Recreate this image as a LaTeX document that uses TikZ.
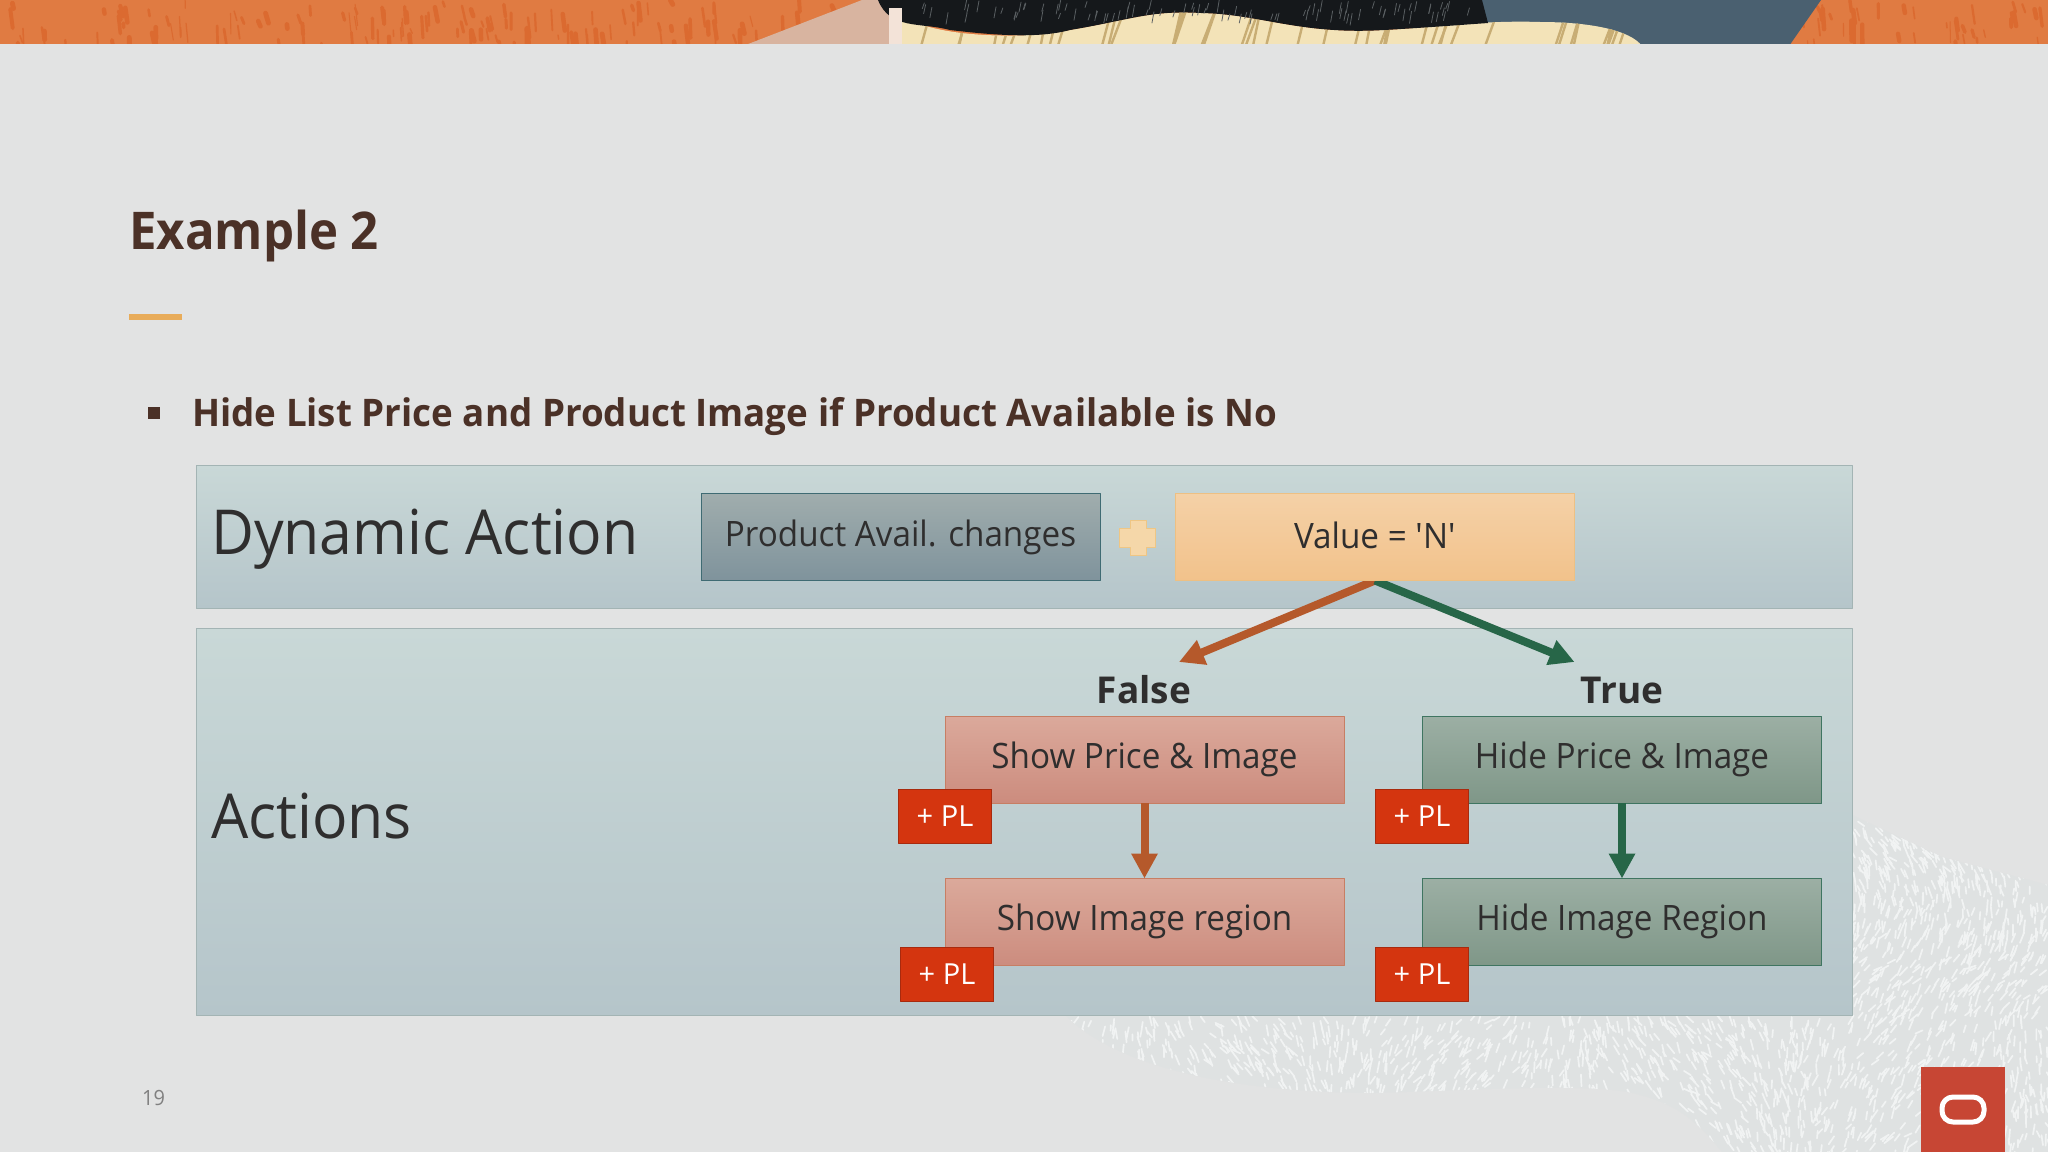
\documentclass[tikz,border=0pt]{standalone}
\usepackage{fontspec}
\setmainfont{Open Sans}
\newfontfamily\narrowfont[FakeStretch=0.95]{Open Sans}
\newfontfamily\titlefont[FakeStretch=0.945]{Open Sans}
\newfontfamily\listfont[FakeStretch=0.967]{Open Sans}
\usetikzlibrary{arrows.meta}
\pgfdeclarelayer{front}
\pgfsetlayers{main,front}
\definecolor{slidebg}{HTML}{E2E3E3}
\definecolor{titlebrown}{HTML}{4B3127}
\definecolor{darktext}{HTML}{2F2E2E}
\definecolor{falsearrow}{HTML}{B5592B}
\definecolor{truearrow}{HTML}{276648}
\definecolor{bandorange}{HTML}{E07B42}
\definecolor{bandstreak}{HTML}{DB6A30}
\definecolor{logored}{HTML}{C74634}
\definecolor{paneltop}{HTML}{C9D8D7}
\definecolor{panelbot}{HTML}{B5C5CA}
\definecolor{paneledge}{HTML}{A3B4B4}
\definecolor{srcedge}{HTML}{3F6B73}
\definecolor{srctop}{HTML}{A0ADAD}
\definecolor{srcbot}{HTML}{7F939C}
\definecolor{condedge}{HTML}{EDC083}
\definecolor{condtop}{HTML}{F4D1A7}
\definecolor{condbot}{HTML}{F2C28B}
\definecolor{falseedge}{HTML}{C77E64}
\definecolor{falsetop}{HTML}{DBA99B}
\definecolor{falsebot}{HTML}{CC8C7E}
\definecolor{trueedge}{HTML}{3F7561}
\definecolor{truetop}{HTML}{9CAFA4}
\definecolor{truebot}{HTML}{7F9788}
\definecolor{plfill}{HTML}{D4350F}
\definecolor{pledge}{HTML}{A82A0E}
\definecolor{bandpink}{HTML}{D8B4A0}
\definecolor{bandslate}{HTML}{4A6070}
\definecolor{bandcream}{HTML}{F3E3B8}
\definecolor{bandtan}{HTML}{C8AD74}
\definecolor{bandblack}{HTML}{15181B}
\definecolor{bandgrey}{HTML}{5A5F62}
\definecolor{bandpale}{HTML}{F3E3D8}
\definecolor{swooshbase}{HTML}{DFE2E2}
\definecolor{swooshmark}{HTML}{F1F3F3}
\definecolor{ruleorange}{HTML}{E8AC5A}
\definecolor{plusedge}{HTML}{EFC684}
\definecolor{plusfill}{HTML}{F5D7A9}
\tikzset{
  panelbox/.style={draw=paneledge,line width=1pt,top color=paneltop,bottom color=panelbot},
  flowbox/.style={minimum width=399pt,minimum height=87pt,inner sep=0pt,outer sep=0pt,line width=1pt,text=darktext,text height=25pt,text depth=8pt,font=\narrowfont\fontsize{35}{40}\selectfont},
  srcbox/.style={flowbox,draw=srcedge,top color=srctop,bottom color=srcbot,text height=26pt},
  condbox/.style={flowbox,draw=condedge,top color=condtop,bottom color=condbot,text height=28pt,text depth=6pt},
  falsebox/.style={flowbox,draw=falseedge,top color=falsetop,bottom color=falsebot},
  truebox/.style={flowbox,draw=trueedge,top color=truetop,bottom color=truebot},
  plbox/.style={minimum width=93pt,minimum height=54pt,inner sep=0pt,outer sep=0pt,fill=plfill,draw=pledge,line width=1pt,text=white,font=\fontsize{29}{34}\selectfont},
  headtext/.style={anchor=base west,inner sep=0pt,text=darktext,font=\narrowfont\fontsize{62}{70}\selectfont},
  branchtext/.style={anchor=base,inner sep=0pt,text=darktext,font=\bfseries\fontsize{37}{42}\selectfont},
  branchline/.style={line width=8pt,line cap=butt,-{Triangle[length=25pt,width=25pt]}}
}
\begin{document}
\begin{tikzpicture}[line cap=round,line join=round,x=1pt,y=-1pt]
\useasboundingbox (0,0) rectangle (2048,1152);
\fill [slidebg] (0,0) rectangle (2048,1152);
\pgfmathsetseed{19}
\begin{scope}
\clip (0,43) rectangle (2048,0);
\fill [bandorange] (0,0) rectangle (2048,46);
\foreach \i in {1,...,190}{
  \pgfmathsetmacro{\px}{rnd<0.77?rnd*860:1780+rnd*270}
  \pgfmathsetmacro{\py}{rnd*43}
  \pgfmathsetmacro{\pl}{4+rnd*18}
  \pgfmathsetmacro{\pw}{1+rnd*4}
  \draw [bandstreak,line width=\pw pt] (\px,\py) -- ++(rnd*3,\pl);
}
\fill [bandpink] (743,46) -- (862,0) -- (890,0) -- (903,46) -- cycle;
\fill [bandslate] (1480,0) -- (1821,0) -- (1789,46) -- (1480,46) -- cycle;
\begin{scope}
\clip (890,0) .. controls (900,40) and (1030,40) .. (1070,30) .. controls (1130,20) and (1150,10) .. (1201,13) .. controls (1260,14) and (1300,35) .. (1384,30) .. controls (1430,28) and (1480,20) .. (1540,22) .. controls (1590,22) and (1630,30) .. (1642,46) -- (890,46) -- cycle;
\fill [bandcream] (880,0) rectangle (1650,46);
\foreach \i in {1,...,46}{
  \pgfmathsetmacro{\px}{900+rnd*740}
  \draw [bandtan,line width=2.4pt] (\px,0) -- ++(-8-rnd*10,46);
}
\end{scope}
\fill [bandblack] (878,0) .. controls (890,30) and (920,22) .. (950,30) .. controls (1000,36) and (1040,38) .. (1070,30) .. controls (1130,20) and (1150,10) .. (1201,13) .. controls (1260,14) and (1300,35) .. (1384,30) .. controls (1420,28) and (1460,25) .. (1488,23) -- (1482,0) -- cycle;
\foreach \i in {1,...,90}{
  \pgfmathsetmacro{\px}{900+rnd*570}
  \pgfmathsetmacro{\py}{rnd*14}
  \draw [bandgrey,line width=0.8pt] (\px,\py) -- ++(-2,5+rnd*7);
}
\fill [bandpale] (889,8) rectangle (902,46);
\end{scope}
\begin{scope}
\clip (1065,1015) -- (1852,815) -- (1942,857) -- (2048,885) -- (2048,1152) -- (1722,1152) .. controls (1700,1125) and (1680,1105) .. (1640,1095) .. controls (1600,1082) and (1480,1090) .. (1375,1093) .. controls (1280,1093) and (1130,1080) .. (1065,1015) -- cycle;
\fill [swooshbase] (1060,810) rectangle (2048,1152);
\foreach \i in {1,...,1800}{
  \pgfmathsetmacro{\px}{1060+rnd*988}
  \pgfmathsetmacro{\py}{1015+rnd*137}
  \pgfmathsetmacro{\pa}{70+35*sin(\px*0.8)+rnd*40}
  \draw [swooshmark,line width=1.7pt] (\px,\py) -- ++(\pa:5+rnd*7);
}
\foreach \i in {1,...,700}{
  \pgfmathsetmacro{\px}{1852+rnd*196}
  \pgfmathsetmacro{\py}{815+rnd*200}
  \pgfmathsetmacro{\pa}{70+35*sin(\py*1.2)+rnd*40}
  \draw [swooshmark,line width=1.7pt] (\px,\py) -- ++(\pa:5+rnd*7);
}
\end{scope}
\node (titletext) [anchor=base west,inner sep=0pt,text=titlebrown,font=\titlefont\bfseries\fontsize{52}{58}\selectfont] at (129,249) {Example 2};
\fill [ruleorange] (129,314) rectangle (182,320);
\fill [titlebrown] (147.5,407) rectangle (160,419);
\node (bullettext) [anchor=base west,inner sep=0pt,text=titlebrown,font=\listfont\bfseries\fontsize{38}{44}\selectfont] at (192,426) {Hide List Price and Product Image if Product Available is No};
\node (pagenum) [anchor=base west,inner sep=0pt,text=gray,font=\narrowfont\fontsize{21}{26}\selectfont] at (142,1105) {19};
\draw [panelbox] (196,465) rectangle (1852,608);
\draw [panelbox] (196,628) rectangle (1852,1015);
\node (dyntext) [headtext] at (211,554) {Dynamic Action};
\node (acttext) [headtext] at (211,838) {Actions};
\node (prodbox) [srcbox] at (900.5,537) {Product Avail. changes};
\begin{pgfonlayer}{front}
\node (valuebox) [condbox] at (1375,537) {Value = \textquotesingle N\textquotesingle};
\end{pgfonlayer}
\draw [draw=plusedge,fill=plusfill,line width=1pt] (1130,520) -- (1146,520) -- (1146,528) -- (1155.5,528) -- (1155.5,547) -- (1146,547) -- (1146,555) -- (1130,555) -- (1130,547) -- (1119.5,547) -- (1119.5,528) -- (1130,528) -- cycle;
\coordinate (falsetip) at (1179,662);
\coordinate (truetip) at (1574.5,662);
\draw [branchline,falsearrow] (valuebox.south) -- (falsetip);
\draw [branchline,truearrow] (valuebox.south) -- (truetip);
\node (falsetext) [branchtext] at (1144,703) {False};
\node (truetext) [branchtext] at (1622,703) {True};
\node (showprice) [falsebox] at (1144.5,759.5) {Show Price \& Image};
\node (showimage) [falsebox] at (1144.5,922) {Show Image region};
\node (hideprice) [truebox] at (1622,759.5) {Hide Price \& Image};
\node (hideimage) [truebox] at (1622,922) {Hide Image Region};
\draw [branchline,falsearrow] (showprice) -- (showimage);
\draw [branchline,truearrow] (hideprice) -- (hideimage);
\node (plshowprice) [plbox] at (945,816) {+ PL};
\node (plshowimage) [plbox] at (947,974.5) {+ PL};
\node (plhideprice) [plbox] at (1422,816) {+ PL};
\node (plhideimage) [plbox] at (1422,974) {+ PL};
\fill [logored] (1921,1067) rectangle (2005,1152);
\draw [white,line width=5pt,rounded corners=11pt] (1942,1097) rectangle (1984,1122);
\end{tikzpicture}
\end{document}
